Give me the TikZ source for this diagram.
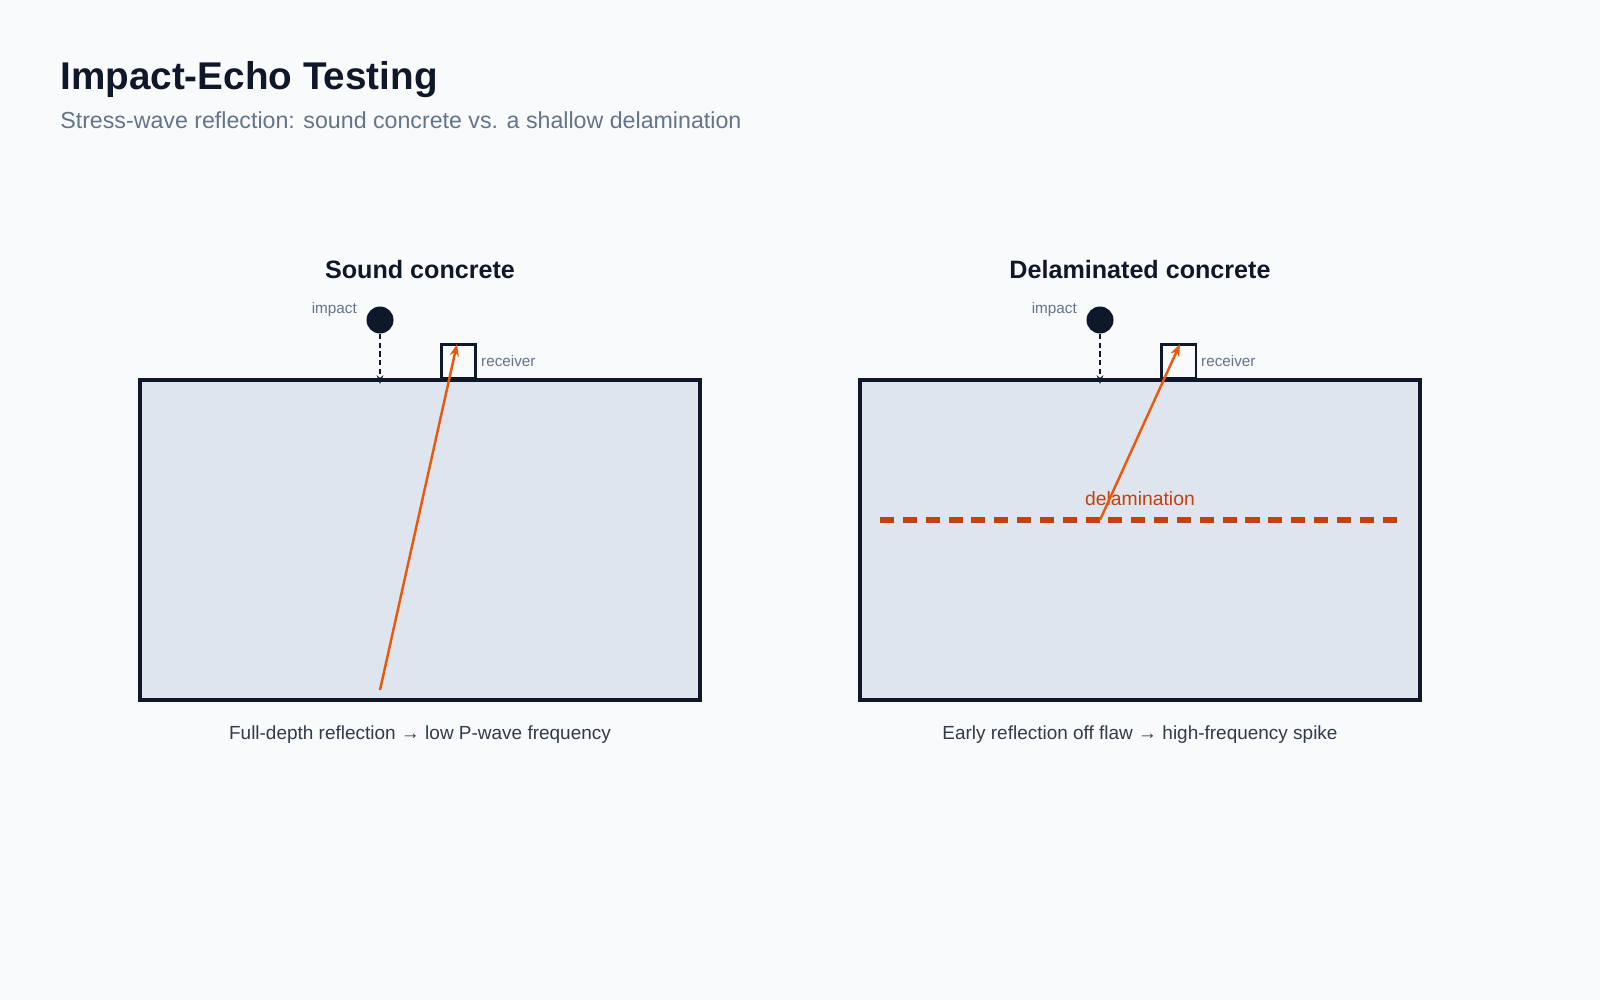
\documentclass[tikz,border=0pt]{standalone}
\usepackage{fontspec}
\setmainfont{Liberation Sans}
\usetikzlibrary{arrows.meta}
\definecolor{paper}{HTML}{F8FAFC}
\definecolor{ink}{HTML}{0F172A}
\definecolor{muted}{HTML}{64748B}
\definecolor{slab}{HTML}{DFE5EE}
\definecolor{wave}{HTML}{EA580C}
\definecolor{flaw}{HTML}{C2410C}
\begin{document}
\begin{tikzpicture}[x=0.02cm,y=-0.02cm,
    slab/.style={draw=ink,line width=2.3pt,fill=slab},
    hammer/.style={circle,fill=ink,inner sep=0pt,minimum size=0.54cm},
    sensor/.style={draw=ink,line width=1.5pt,fill=paper,inner sep=0pt,minimum width=0.69cm,minimum height=0.68cm},
    drop/.style={ink,line width=1.5pt,dash pattern=on 3pt off 2pt,-{Stealth[length=5pt]}},
    ray/.style={wave,line width=1.4pt,-{Stealth[length=7pt]}},
    small/.style={text=muted,font=\fontsize{8.7}{10}\selectfont},
    panel/.style={text=ink,font=\fontsize{14.3}{16}\selectfont\bfseries},
    caption/.style={text=ink!85,font=\fontsize{10.8}{12}\selectfont}]
    \fill[paper] (0,0) rectangle (1600,1000);
    % heading
    \node[anchor=base west,inner sep=0pt,text=ink,font=\fontsize{22}{26}\selectfont\bfseries] (title) at (60,90) {Impact-Echo Testing};
    \node[anchor=base west,inner sep=0pt,text=muted,font=\fontsize{13.2}{15}\selectfont] (subtitle) at (60,129) {Stress-wave reflection: sound concrete vs. a shallow delamination};
    % left panel
    \node[panel,anchor=base] (ltitle) at (420,279) {Sound concrete};
    \draw[slab] (140,380) rectangle (700,700);
    \coordinate (ltop) at (380,384);
    \coordinate (lbot) at (380,690);
    \node[sensor,anchor=south west] (lrec) at (440,380) {};
    \node[hammer] (lhit) at (380,320) {};
    \draw[drop] (lhit) -- (ltop);
    \draw[ray] (lbot) -- (457,344);
    \node[small,anchor=base east] (limp) at (363,314) {impact};
    \node[small,anchor=base west] (lrlab) at (475,367) {receiver};
    \node[caption,anchor=base] (lcap) at (420,739) {Full-depth reflection → low P-wave frequency};
    % right panel
    \node[panel,anchor=base] (rtitle) at (1140,279) {Delaminated concrete};
    \draw[slab] (860,380) rectangle (1420,700);
    \coordinate (rtop) at (1100,384);
    \coordinate (rflaw) at (1100,520);
    \node[sensor,anchor=south west] (rrec) at (1160,380) {};
    \node[hammer] (rhit) at (1100,320) {};
    \draw[drop] (rhit) -- (rtop);
    %delamination
    \draw[flaw,line width=3.8pt,dash pattern=on 8pt off 5pt] (880,520) -- (1398,520);
    \node[text=flaw,font=\fontsize{11}{12}\selectfont,anchor=base] (rflab) at (1140,505) {delamination};
    \draw[ray] (rflaw) -- (1180,344);
    \node[small,anchor=base east] (rimp) at (1083,314) {impact};
    \node[small,anchor=base west] (rrlab) at (1195,367) {receiver};
    \node[caption,anchor=base] (rcap) at (1140,739) {Early reflection off flaw → high-frequency spike};
\end{tikzpicture}
\end{document}
